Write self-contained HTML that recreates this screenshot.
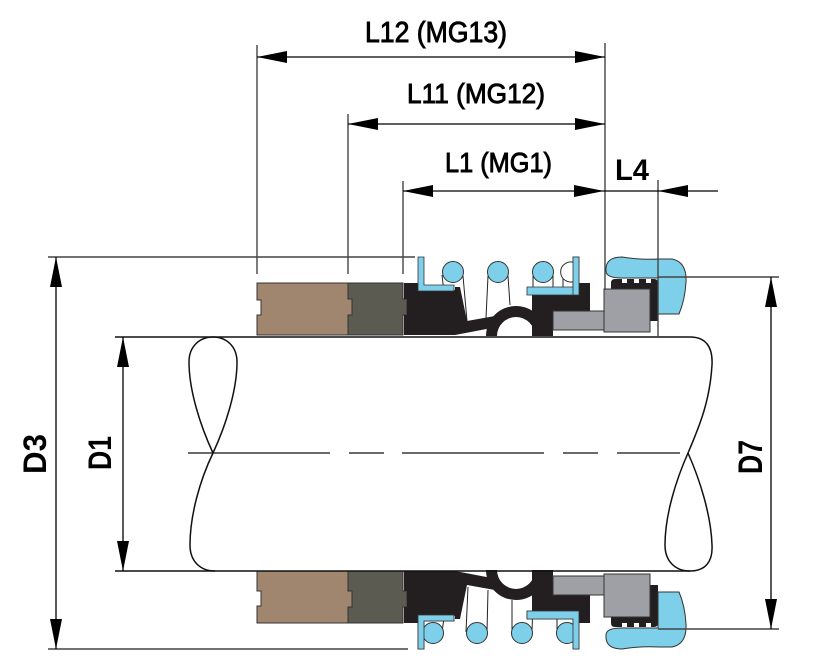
<!DOCTYPE html>
<html>
<head>
<meta charset="utf-8">
<style>
html,body{margin:0;padding:0;background:#fff;}
svg{display:block;}
</style>
</head>
<body>
<svg width="821" height="663" viewBox="0 0 821 663" xmlns="http://www.w3.org/2000/svg">
<defs>
  <g id="half">
    <!-- brown block -->
    <path d="M257,283 L348,283 L348,299 L352,299 L352,315 L348,315 L348,335 L257,335 L257,315 L261,315 L261,300 L257,300 Z" fill="#a0866f" stroke="#333" stroke-width="1"/>
    <!-- dark grey block -->
    <path d="M348,283 L403,283 L403,299 L407,299 L407,315 L403,315 L403,335 L348,335 L348,315 L352,315 L352,299 L348,299 Z" fill="#5c5b51" stroke="#333" stroke-width="1"/>
    <!-- black left body -->
    <path d="M404,283 L418,283 L418,290 L455,290 L455,287 L460,287 L467,321 L495,316 L497,327 L455,335 L404,335 L404,315 L407,315 L407,299 L404,299 Z" fill="#231f20"/>
    <!-- arch -->
    <path d="M486,336 A30,30 0 0 1 546,336 L535,336 A19,19 0 0 0 497,336 Z" fill="#231f20"/>
    <!-- black right block -->
    <path d="M532,294 L579,294 L579,283 L590,283 L590,336 L532,336 Z" fill="#231f20"/>
    <!-- black cup -->
    <path d="M611,283 Q611,279 615,279 L654,279 Q658,279 658,283 L658,321 L611,321 Z" fill="#231f20"/>
    <rect x="622" y="279" width="5" height="4" fill="#fff"/>
    <rect x="634" y="279" width="5" height="4" fill="#fff"/>
    <rect x="646" y="279" width="5" height="4" fill="#fff"/>
    <!-- grey small -->
    <rect x="553" y="311" width="52" height="19" fill="#9fa0a5" stroke="#333" stroke-width="1"/>
    <rect x="553" y="330.5" width="51" height="6" fill="#fff"/>
    <!-- grey big -->
    <rect x="604" y="289" width="46" height="43" fill="#9fa0a5" stroke="#333" stroke-width="1"/>
    <!-- blue gland -->
    <path d="M606,271 Q605,257 622,257 Q640,260 660,259 L672,259 Q687,262 686,282 Q685,300 679,314 L658,314 L658,278 L622,278 Q606,278 606,271 Z" fill="#7ecfea" stroke="#333" stroke-width="1"/>
    <!-- left bracket -->
    <path d="M418,257 L424,257 L424,285 L454,285 L454,291 L418,291 Z" fill="#7ecfea" stroke="#333" stroke-width="0.8"/>
    <!-- right bracket -->
    <path d="M573,257 L579,257 L579,295 L527,295 L527,287 L573,287 Z" fill="#7ecfea" stroke="#333" stroke-width="0.8"/>
  </g>
  <marker id="a" viewBox="0 0 30 12" refX="30" refY="6" markerWidth="30" markerHeight="12" markerUnits="userSpaceOnUse" orient="auto-start-reverse">
    <path d="M0,0 L30,6 L0,12 Z" fill="#000"/>
  </marker>
</defs>

<!-- top springs lines (behind) -->
<g stroke="#222" stroke-width="1" fill="none">
  <line x1="442" y1="275" x2="444" y2="292"/>
  <line x1="463" y1="276" x2="467" y2="321"/>
  <line x1="488" y1="276" x2="486" y2="318"/>
  <line x1="508" y1="276" x2="510" y2="305"/>
  <line x1="533" y1="276" x2="533" y2="290"/>
  <line x1="553" y1="276" x2="553" y2="290"/>
  <line x1="563" y1="276" x2="563" y2="290"/>
</g>
<!-- bottom spring lines -->
<g stroke="#222" stroke-width="1" fill="none">
  <line x1="442" y1="632" x2="444" y2="618"/>
  <line x1="466" y1="632" x2="468" y2="587"/>
  <line x1="487" y1="632" x2="488" y2="590"/>
  <line x1="512" y1="632" x2="512" y2="600"/>
  <line x1="532" y1="632" x2="533" y2="600"/>
  <line x1="557" y1="632" x2="557" y2="616"/>
</g>

<use href="#half"/>
<use href="#half" transform="matrix(1,0,0,-1,0,906)"/>

<!-- top circles -->
<g stroke="#333" stroke-width="1">
  <circle cx="453" cy="272" r="10.5" fill="#7ecfea"/>
  <circle cx="498" cy="272" r="10.5" fill="#7ecfea"/>
  <circle cx="543" cy="272" r="10.5" fill="#7ecfea"/>
</g>
<!-- partially hidden circle top right -->
<path d="M575,263 A10,10 0 1 0 575,281" fill="#fff" stroke="#333" stroke-width="1"/>
<path d="M573,257 L579,257 L579,295 L573,295 Z" fill="#7ecfea" stroke="#333" stroke-width="0.8"/>
<!-- bottom circles -->
<g stroke="#333" stroke-width="1">
  <circle cx="433" cy="633" r="10.5" fill="#7ecfea"/>
  <circle cx="477" cy="633" r="10.5" fill="#7ecfea"/>
  <circle cx="522" cy="633" r="10.5" fill="#7ecfea"/>
  <circle cx="567" cy="633" r="10.5" fill="#7ecfea"/>
</g>
<!-- redraw bottom brackets over circles -->
<path d="M418,649 L424,649 L424,621 L454,621 L454,615 L418,615 Z" fill="#7ecfea" stroke="#333" stroke-width="0.8"/>
<path d="M573,649 L579,649 L579,611 L527,611 L527,619 L573,619 Z" fill="#7ecfea" stroke="#333" stroke-width="0.8"/>

<!-- shaft -->
<g stroke="#111" stroke-width="1.5" fill="none">
  <line x1="115" y1="337" x2="690" y2="337"/>
  <line x1="115" y1="571" x2="690" y2="571"/>
  <path d="M213,453 C200,425 189,390 189,362 C189,346 200,337 213,337 C226,337 237,346 237,362 C237,390 226,425 213,453 C200,480 190,515 190,545 C190,561 200,571 215,571"/>
  <path d="M690,337 C705,337 713,346 712,365 C710,400 700,425 688,453 C676,480 665,515 665,545 C665,561 675,571 690,571 C705,571 713,562 712,545 C711,515 700,480 688,453"/>
</g>
<!-- center line -->
<g stroke="#111" stroke-width="1.3">
  <line x1="188" y1="453" x2="330" y2="453"/>
  <line x1="349" y1="453" x2="384" y2="453"/>
  <line x1="402" y1="453" x2="544" y2="453"/>
  <line x1="563" y1="453" x2="598" y2="453"/>
  <line x1="617" y1="453" x2="680" y2="453"/>
</g>

<!-- extension lines -->
<g stroke="#444" stroke-width="1.4">
  <line x1="48" y1="257" x2="415" y2="257"/>
  <line x1="48" y1="649" x2="408" y2="649"/>
  <line x1="658" y1="277" x2="779" y2="277"/>
  <line x1="658" y1="629" x2="779" y2="629"/>
  <line x1="257" y1="45" x2="257" y2="274"/>
  <line x1="348" y1="114" x2="348" y2="274"/>
  <line x1="403" y1="181" x2="403" y2="274"/>
  <line x1="605" y1="43" x2="605" y2="290"/>
  <line x1="658" y1="180" x2="658" y2="337"/>
</g>

<!-- dimension lines -->
<g stroke="#000" stroke-width="1.3" fill="none">
  <line x1="257" y1="57" x2="605" y2="57" marker-start="url(#a)" marker-end="url(#a)"/>
  <line x1="348" y1="124" x2="605" y2="124" marker-start="url(#a)" marker-end="url(#a)"/>
  <line x1="403" y1="191" x2="604" y2="191" marker-start="url(#a)" marker-end="url(#a)"/>
  <line x1="604" y1="191" x2="658" y2="191"/>
  <line x1="718" y1="191" x2="658" y2="191" marker-end="url(#a)"/>
  <line x1="56" y1="257" x2="56" y2="649" marker-start="url(#a)" marker-end="url(#a)"/>
  <line x1="123" y1="337" x2="123" y2="571" marker-start="url(#a)" marker-end="url(#a)"/>
  <line x1="771" y1="277" x2="771" y2="629" marker-start="url(#a)" marker-end="url(#a)"/>
</g>

<!-- labels -->
<g font-family="'Liberation Sans', sans-serif" fill="#000">
  <text x="365" y="42" font-size="29" textLength="142" lengthAdjust="spacingAndGlyphs" stroke="#000" stroke-width="0.9">L12 (MG13)</text>
  <text x="407" y="103" font-size="28" textLength="138" lengthAdjust="spacingAndGlyphs" stroke="#000" stroke-width="0.9">L11 (MG12)</text>
  <text x="445" y="172" font-size="28" textLength="107" lengthAdjust="spacingAndGlyphs" stroke="#000" stroke-width="0.9">L1 (MG1)</text>
  <text x="615" y="180" font-size="30" font-weight="bold" textLength="34" lengthAdjust="spacingAndGlyphs">L4</text>
  <text transform="translate(46,474) rotate(-90)" font-size="32" font-weight="bold" textLength="40" lengthAdjust="spacingAndGlyphs">D3</text>
  <text transform="translate(111,470) rotate(-90)" font-size="32" font-weight="bold" textLength="34" lengthAdjust="spacingAndGlyphs">D1</text>
  <text transform="translate(762,474) rotate(-90)" font-size="34" font-weight="bold" textLength="34" lengthAdjust="spacingAndGlyphs">D7</text>
</g>
</svg>
</body>
</html>
